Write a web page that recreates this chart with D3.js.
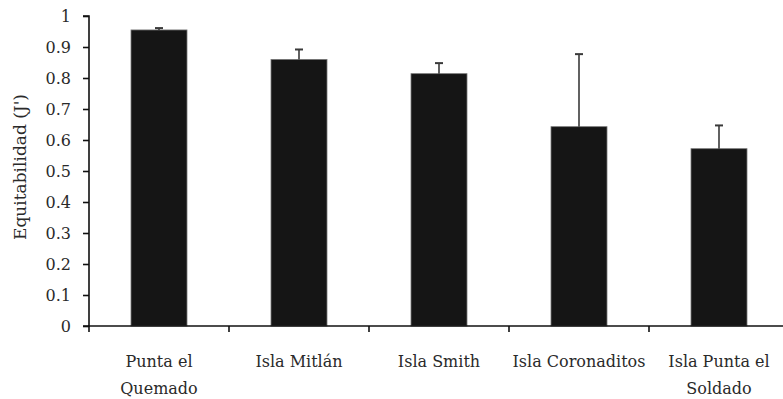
<!DOCTYPE html>
<html>
<head>
<meta charset="utf-8">
<script src="https://cdn.jsdelivr.net/npm/d3@7"></script>
<style>
  html, body { margin: 0; padding: 0; background: #fff; }
  svg { display: block; }
</style>
</head>
<body>
<svg id="chart" width="783" height="399"></svg>
<script>
// Sites (two-line labels), mean evenness J' and standard deviation
const sites = ["Punta el|Quemado", "Isla Mitlán", "Isla Smith", "Isla Coronaditos", "Isla Punta el|Soldado"];
const meanJ = [0.955, 0.860, 0.814, 0.643, 0.572];
const sdJ = [0.006, 0.032, 0.034, 0.234, 0.075];
const yTicks = [0, 0.1, 0.2, 0.3, 0.4, 0.5, 0.6, 0.7, 0.8, 0.9, 1];

const FONT = "'DejaVu Serif', 'Times New Roman', Tinos, 'Liberation Serif', Georgia, serif";
const svg = d3.select("#chart");
const plotLeft = 89, plotRight = 789, plotTop = 16, plotBottom = 326;

const x = d3.scaleBand().domain(sites).range([plotLeft, plotRight]).paddingInner(0.6).paddingOuter(0.3);
const y = d3.scaleLinear().domain([0, 1]).range([plotBottom, plotTop]);

// Bars
svg.append("g").selectAll("rect")
  .data(sites)
  .join("rect")
  .attr("x", d => x(d))
  .attr("width", x.bandwidth())
  .attr("y", (d, i) => y(meanJ[i]))
  .attr("height", (d, i) => y(0) - y(meanJ[i]))
  .attr("fill", "#151515")
  .attr("stroke", "#777")
  .attr("stroke-width", 0.8);

// Upper error bars
const eb = svg.append("g").attr("stroke", "#3a3a3a").attr("stroke-width", 1.6);
sites.forEach((d, i) => {
  const cx = x(d) + x.bandwidth() / 2;
  eb.append("line").attr("x1", cx).attr("x2", cx)
    .attr("y1", y(meanJ[i])).attr("y2", y(meanJ[i] + sdJ[i]));
  eb.append("line").attr("x1", cx - 4).attr("x2", cx + 4)
    .attr("y1", y(meanJ[i] + sdJ[i])).attr("y2", y(meanJ[i] + sdJ[i]))
    .attr("stroke-width", 2);
});

// Y axis
const yAxis = svg.append("g")
  .attr("transform", `translate(${plotLeft},0)`)
  .call(d3.axisLeft(y).tickValues(yTicks).tickSize(6).tickPadding(12)
    .tickFormat(d => d === 0 || d === 1 ? String(d) : d3.format(".1f")(d)));
yAxis.attr("font-family", null).attr("font-size", null);
yAxis.select(".domain").attr("stroke", "#111").attr("stroke-width", 1.6).attr("d", `M-6,${plotTop}H0V${plotBottom}H-6`);
yAxis.selectAll(".tick line").attr("stroke", "#111").attr("stroke-width", 1.6);
yAxis.selectAll(".tick text").style("font-family", FONT).style("font-size", "16px").attr("fill", "#2a2a2a");

// X axis with ticks between categories
const xAxis = svg.append("g").attr("transform", `translate(0,${plotBottom})`);
xAxis.append("line").attr("x1", plotLeft - 1).attr("x2", plotRight).attr("y1", 0).attr("y2", 0)
  .attr("stroke", "#111").attr("stroke-width", 1.6);
d3.range(sites.length + 1).forEach(k => {
  const tx = plotLeft + k * x.step();
  xAxis.append("line").attr("x1", tx).attr("x2", tx).attr("y1", 0).attr("y2", 6)
    .attr("stroke", "#111").attr("stroke-width", 1.6);
});

// Category labels
sites.forEach(d => {
  const cx = x(d) + x.bandwidth() / 2;
  d.split("|").forEach((line, j) => {
    svg.append("text").attr("x", cx).attr("y", 367 + j * 27)
      .attr("text-anchor", "middle").attr("fill", "#2a2a2a")
      .style("font-family", FONT).style("font-size", "16px").text(line);
  });
});

// Y axis title
svg.append("text")
  .attr("transform", "translate(26,167) rotate(-90)")
  .attr("text-anchor", "middle").attr("fill", "#2a2a2a")
  .style("font-family", FONT).style("font-size", "17px")
  .text("Equitabilidad (J')");
</script>
</body>
</html>
